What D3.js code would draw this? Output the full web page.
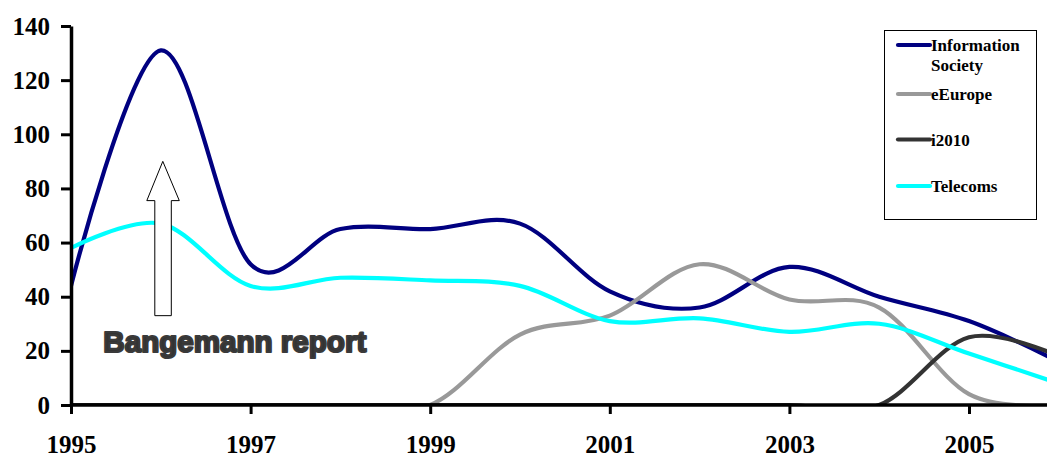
<!DOCTYPE html>
<html>
<head>
<meta charset="utf-8">
<script src="https://cdn.jsdelivr.net/npm/d3@7"></script>
<style>
  html, body { margin: 0; padding: 0; background: #fff; }
  svg { display: block; }
</style>
</head>
<body>
<svg id="chart" width="1047" height="457"></svg>
<script>
// Yearly counts per policy theme
const years = [1995, 1996, 1997, 1998, 1999, 2000, 2001, 2002, 2003, 2004, 2005, 2006];
const infoSociety = [44, 131, 52, 65, 65, 67, 42, 36, 51, 40, 31, 16];
const eEurope     = [0, 0, 0, 0, 0, 26, 33, 52, 39, 36, 4, 0];
const i2010       = [0, 0, 0, 0, 0, 0, 0, 0, 0, 0, 25, 18];
const telecoms    = [58, 67, 44, 47, 46, 44, 31, 32, 27, 30, 19, 8];

const seriesNames  = ["Information Society", "eEurope", "i2010", "Telecoms"];
const seriesColors = ["#000080", "#999999", "#333333", "#00FFFF"];
const yTicks = [0, 20, 40, 60, 80, 100, 120, 140];
const xTicks = [1995, 1997, 1999, 2001, 2003, 2005];

const series = [infoSociety, eEurope, i2010, telecoms].map((vals, i) => ({
  name: seriesNames[i],
  color: seriesColors[i],
  values: vals.map((v, j) => ({ year: years[j], value: v }))
}));

const svg = d3.select("#chart");
const W = 1047;
const plotLeft = 71, plotTop = 26, plotBottom = 405;

const x = d3.scaleLinear().domain([1995, 2005]).range([plotLeft, 969]);
const y = d3.scaleLinear().domain([0, 140]).range([plotBottom, plotTop]);

svg.append("defs").append("clipPath").attr("id", "plot")
  .append("rect")
  .attr("x", plotLeft).attr("y", plotTop)
  .attr("width", W - plotLeft).attr("height", plotBottom - plotTop);

const line = d3.line()
  .x(d => x(d.year))
  .y(d => y(d.value))
  .curve(d3.curveCardinal.tension(0));

const lines = svg.append("g").attr("clip-path", "url(#plot)");
lines.selectAll("path")
  .data(series)
  .join("path")
  .attr("d", d => line(d.values))
  .attr("fill", "none")
  .attr("stroke", d => d.color)
  .attr("stroke-width", 4.2)
  .attr("stroke-linejoin", "round");

// Annotation: hollow arrow above the report label
const arrowX = 1996, tipV = 90, headV = 75.5, baseV = 33;
const cx = x(arrowX) + 2;
const arrowPts = [
  [cx, y(tipV)],
  [cx + 16.5, y(headV)],
  [cx + 8.5, y(headV)],
  [cx + 8.5, y(baseV)],
  [cx - 8, y(baseV)],
  [cx - 8, y(headV)],
  [cx - 16, y(headV)]
];
svg.append("path")
  .attr("d", d3.line()(arrowPts) + "Z")
  .attr("fill", "#fff")
  .attr("stroke", "#000")
  .attr("stroke-width", 1);

svg.append("text")
  .attr("x", x(1995.36))
  .attr("y", y(19.6))
  .attr("font-family", "'Liberation Sans', Arial, sans-serif")
  .attr("font-weight", "bold")
  .attr("font-size", 30)
  .attr("textLength", 263)
  .attr("lengthAdjust", "spacingAndGlyphs")
  .attr("fill", "#333")
  .attr("stroke", "#3a3a3a")
  .attr("stroke-width", 2.2)
  .attr("stroke-linejoin", "round")
  .text("Bangemann report");

// Axes
const axisFont = "'Liberation Serif', 'Times New Roman', serif";
const yAxis = svg.append("g")
  .attr("transform", `translate(${plotLeft},0)`)
  .call(d3.axisLeft(y).tickValues(yTicks).tickSize(10).tickSizeOuter(0).tickFormat(d3.format("d")));
yAxis.select(".domain").attr("stroke", "#000").attr("stroke-width", 3.5);
yAxis.selectAll(".tick line").attr("stroke", "#000").attr("stroke-width", 3);
yAxis.selectAll(".tick text")
  .attr("x", -21)
  .attr("font-family", axisFont)
  .attr("font-weight", "bold")
  .attr("font-size", 25)
  .attr("fill", "#000");

const xAxis = svg.append("g")
  .attr("transform", `translate(0,${plotBottom})`)
  .call(d3.axisBottom(x).tickValues(xTicks).tickSize(9).tickSizeOuter(0).tickFormat(d3.format("d")));
xAxis.select(".domain").attr("d", `M${plotLeft},0H${W}`).attr("stroke", "#000").attr("stroke-width", 3.5);
xAxis.selectAll(".tick line").attr("stroke", "#000").attr("stroke-width", 3);
xAxis.selectAll(".tick text")
  .attr("y", 48)
  .attr("dy", 0)
  .attr("font-family", axisFont)
  .attr("font-weight", "bold")
  .attr("font-size", 25)
  .attr("fill", "#000");

// Legend
const legend = svg.append("g");
legend.append("rect")
  .attr("x", 884.5).attr("y", 30.5)
  .attr("width", 152).attr("height", 189)
  .attr("fill", "#fff").attr("stroke", "#000").attr("stroke-width", 1);

const legendRows = [
  { lineY: 45, lines: ["Information", "Society"] },
  { lineY: 94, lines: ["eEurope"] },
  { lineY: 139.5, lines: ["i2010"] },
  { lineY: 186, lines: ["Telecoms"] }
];
series.forEach((s, i) => {
  const row = legendRows[i];
  legend.append("line")
    .attr("x1", 898).attr("x2", 930)
    .attr("y1", row.lineY).attr("y2", row.lineY)
    .attr("stroke", s.color).attr("stroke-width", 4.2)
    .attr("stroke-linecap", "round");
  const t = legend.append("text")
    .attr("x", 931)
    .attr("y", row.lineY + 6)
    .attr("font-family", axisFont)
    .attr("font-weight", "bold")
    .attr("font-size", 17)
    .attr("fill", "#000");
  row.lines.forEach((ln, k) => {
    t.append("tspan").attr("x", 931).attr("dy", k === 0 ? 0 : 20).text(ln);
  });
});
</script>
</body>
</html>
